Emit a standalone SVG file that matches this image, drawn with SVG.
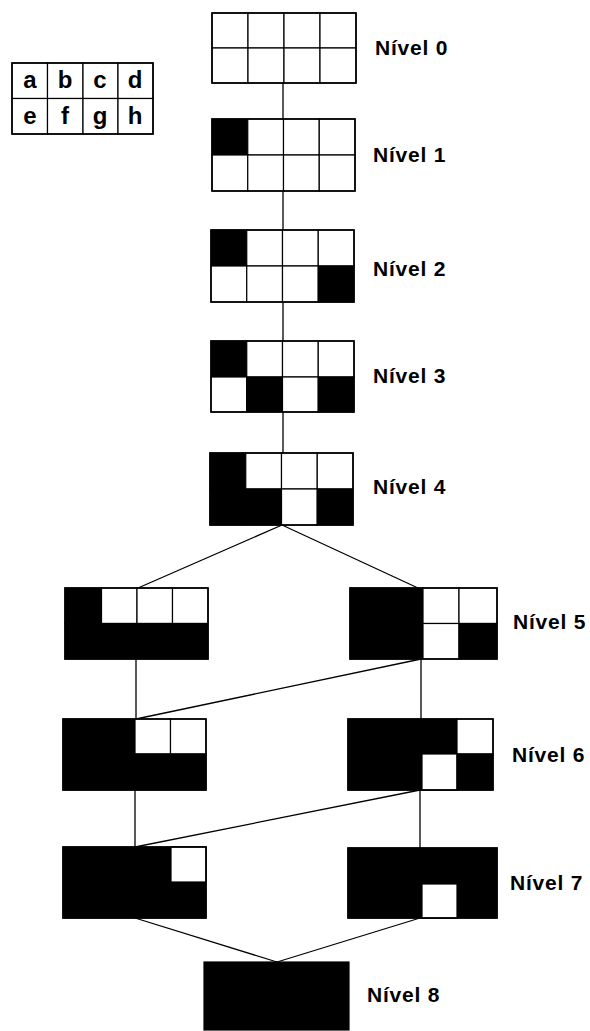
<svg xmlns="http://www.w3.org/2000/svg" width="590" height="1031" viewBox="0 0 590 1031">
<style>
.w{fill:#fff;stroke:#000;stroke-width:1.2}
.b{fill:#000;stroke:#000;stroke-width:1.2}
.frame{fill:none;stroke:#000;stroke-width:1.6}
.con{stroke:#000;stroke-width:1.3;fill:none}
.lbl{font-family:"Liberation Sans",Arial,sans-serif;font-size:21px;font-weight:bold;letter-spacing:0.8px;fill:#000}
.leg{font-family:"Liberation Sans",Arial,sans-serif;font-size:24px;font-weight:bold;fill:#000;text-anchor:middle}
</style>
<rect width="590" height="1031" fill="#fff"/>

<g id="connectors">
<line class="con" x1="283" y1="83" x2="283" y2="453"/>
<line class="con" x1="282" y1="525" x2="138" y2="588"/>
<line class="con" x1="282" y1="525" x2="418" y2="588"/>
<line class="con" x1="136" y1="659" x2="136" y2="719"/>
<line class="con" x1="421" y1="659" x2="421" y2="719"/>
<line class="con" x1="421" y1="659" x2="136" y2="719"/>
<line class="con" x1="135" y1="790" x2="135" y2="847"/>
<line class="con" x1="420" y1="790" x2="420" y2="848"/>
<line class="con" x1="420" y1="790" x2="135" y2="847"/>
<line class="con" x1="135" y1="918" x2="277" y2="962"/>
<line class="con" x1="420" y1="918" x2="277" y2="962"/>
</g>

<g id="legend">
<rect class="w" x="12" y="63" width="35.5" height="35.5"/>
<rect class="w" x="47.5" y="63" width="35.5" height="35.5"/>
<rect class="w" x="83" y="63" width="35" height="35.5"/>
<rect class="w" x="118" y="63" width="35" height="35.5"/>
<rect class="w" x="12" y="98.5" width="35.5" height="35.5"/>
<rect class="w" x="47.5" y="98.5" width="35.5" height="35.5"/>
<rect class="w" x="83" y="98.5" width="35" height="35.5"/>
<rect class="w" x="118" y="98.5" width="35" height="35.5"/>
<rect class="frame" x="12" y="63" width="141" height="71"/>
<text class="leg" x="30" y="88">a</text>
<text class="leg" x="65" y="88">b</text>
<text class="leg" x="100" y="88">c</text>
<text class="leg" x="135" y="88">d</text>
<text class="leg" x="30" y="124">e</text>
<text class="leg" x="65" y="124">f</text>
<text class="leg" x="100" y="124">g</text>
<text class="leg" x="135" y="124">h</text>
</g>

<g id="n0">
<rect class="w" x="212" y="13" width="36" height="35"/>
<rect class="w" x="248" y="13" width="36" height="35"/>
<rect class="w" x="284" y="13" width="36" height="35"/>
<rect class="w" x="320" y="13" width="36" height="35"/>
<rect class="w" x="212" y="48" width="36" height="35"/>
<rect class="w" x="248" y="48" width="36" height="35"/>
<rect class="w" x="284" y="48" width="36" height="35"/>
<rect class="w" x="320" y="48" width="36" height="35"/>
<rect class="frame" x="212" y="13" width="144" height="70"/>
<text class="lbl" x="375" y="55">Nível 0</text>
</g>

<g id="n1">
<rect class="b" x="212" y="119" width="35.75" height="36"/>
<rect class="w" x="247.75" y="119" width="35.75" height="36"/>
<rect class="w" x="283.5" y="119" width="35.75" height="36"/>
<rect class="w" x="319.25" y="119" width="35.75" height="36"/>
<rect class="w" x="212" y="155" width="35.75" height="36"/>
<rect class="w" x="247.75" y="155" width="35.75" height="36"/>
<rect class="w" x="283.5" y="155" width="35.75" height="36"/>
<rect class="w" x="319.25" y="155" width="35.75" height="36"/>
<rect class="frame" x="212" y="119" width="143" height="72"/>
<text class="lbl" x="373" y="162">Nível 1</text>
</g>

<g id="n2">
<rect class="b" x="211" y="230" width="35.75" height="36"/>
<rect class="w" x="246.75" y="230" width="35.75" height="36"/>
<rect class="w" x="282.5" y="230" width="35.75" height="36"/>
<rect class="w" x="318.25" y="230" width="35.75" height="36"/>
<rect class="w" x="211" y="266" width="35.75" height="36"/>
<rect class="w" x="246.75" y="266" width="35.75" height="36"/>
<rect class="w" x="282.5" y="266" width="35.75" height="36"/>
<rect class="b" x="318.25" y="266" width="35.75" height="36"/>
<rect class="frame" x="211" y="230" width="143" height="72"/>
<text class="lbl" x="373" y="276">Nível 2</text>
</g>

<g id="n3">
<rect class="b" x="211" y="341" width="35.75" height="36"/>
<rect class="w" x="246.75" y="341" width="35.75" height="36"/>
<rect class="w" x="282.5" y="341" width="35.75" height="36"/>
<rect class="w" x="318.25" y="341" width="35.75" height="36"/>
<rect class="w" x="211" y="377" width="35.75" height="35"/>
<rect class="b" x="246.75" y="377" width="35.75" height="35"/>
<rect class="w" x="282.5" y="377" width="35.75" height="35"/>
<rect class="b" x="318.25" y="377" width="35.75" height="35"/>
<rect class="frame" x="211" y="341" width="143" height="71"/>
<text class="lbl" x="373" y="383">Nível 3</text>
</g>

<g id="n4">
<rect class="b" x="210" y="453" width="35.75" height="36"/>
<rect class="w" x="245.75" y="453" width="35.75" height="36"/>
<rect class="w" x="281.5" y="453" width="35.75" height="36"/>
<rect class="w" x="317.25" y="453" width="35.75" height="36"/>
<rect class="b" x="210" y="489" width="35.75" height="36"/>
<rect class="b" x="245.75" y="489" width="35.75" height="36"/>
<rect class="w" x="281.5" y="489" width="35.75" height="36"/>
<rect class="b" x="317.25" y="489" width="35.75" height="36"/>
<rect class="frame" x="210" y="453" width="143" height="72"/>
<text class="lbl" x="373" y="494">Nível 4</text>
</g>

<g id="n5a">
<rect class="b" x="65" y="588" width="36.5" height="35.5"/>
<rect class="w" x="101.5" y="588" width="35.5" height="35.5"/>
<rect class="w" x="137" y="588" width="35.5" height="35.5"/>
<rect class="w" x="172.5" y="588" width="35.5" height="35.5"/>
<rect class="b" x="65" y="623.5" width="143" height="35.5"/>
<rect class="frame" x="65" y="588" width="143" height="71"/>
</g>

<g id="n5b">
<rect class="b" x="350" y="588" width="73" height="71"/>
<rect class="w" x="423" y="588" width="36" height="35.5"/>
<rect class="w" x="459" y="588" width="38" height="35.5"/>
<rect class="w" x="423" y="623.5" width="36" height="35.5"/>
<rect class="b" x="459" y="623.5" width="38" height="35.5"/>
<rect class="frame" x="350" y="588" width="147" height="71"/>
<text class="lbl" x="513" y="629">Nível 5</text>
</g>

<g id="n6a">
<rect class="b" x="63" y="719" width="72" height="71"/>
<rect class="w" x="135" y="719" width="35.5" height="35"/>
<rect class="w" x="170.5" y="719" width="35.5" height="35"/>
<rect class="b" x="135" y="754" width="71" height="36"/>
<rect class="frame" x="63" y="719" width="143" height="71"/>
</g>

<g id="n6b">
<rect class="b" x="348" y="719" width="109" height="71"/>
<rect class="w" x="457" y="719" width="36" height="35"/>
<rect class="w" x="422" y="754" width="35" height="36"/>
<rect class="b" x="457" y="754" width="36" height="36"/>
<rect class="frame" x="348" y="719" width="145" height="71"/>
<text class="lbl" x="512" y="762">Nível 6</text>
</g>

<g id="n7a">
<rect class="b" x="63" y="847" width="143" height="71"/>
<rect class="w" x="171" y="847" width="35" height="35"/>
<rect class="frame" x="63" y="847" width="143" height="71"/>
</g>

<g id="n7b">
<rect class="b" x="348" y="848" width="149" height="70"/>
<rect class="w" x="422" y="884" width="35" height="34"/>
<rect class="frame" x="348" y="848" width="149" height="70"/>
<text class="lbl" x="510" y="890">Nível 7</text>
</g>

<g id="n8">
<rect class="b" x="204" y="962" width="145" height="68"/>
<text class="lbl" x="367" y="1002">Nível 8</text>
</g>
</svg>
